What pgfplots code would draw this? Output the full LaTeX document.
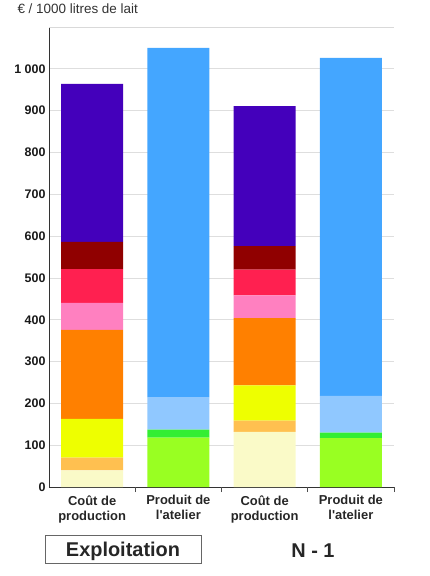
\documentclass[border=0pt]{standalone}
\usepackage{fontspec}
\setmainfont{Liberation Sans}
\newfontfamily\rawfont{Liberation Sans}
\usepackage{pgfplots}
\pgfplotsset{compat=1.18}
\definecolor{cream}{HTML}{FAFAC8}
\definecolor{lorange}{HTML}{FFC050}
\definecolor{yel}{HTML}{EEFF00}
\definecolor{orng}{HTML}{FF8000}
\definecolor{pnk}{HTML}{FF80C0}
\definecolor{rd}{HTML}{FF2050}
\definecolor{drd}{HTML}{900000}
\definecolor{purp}{HTML}{4400BB}
\definecolor{lime}{HTML}{99FF22}
\definecolor{grn}{HTML}{33EE33}
\definecolor{lblue}{HTML}{90C8FF}
\definecolor{blu}{HTML}{44A6FF}
\newcommand{\apos}{{\rawfont '}}
\begin{document}
\begin{tikzpicture}
\useasboundingbox (-49bp,-89bp) rectangle (381bp,487bp);
\begin{axis}[
 at={(0,0)}, anchor=south west, scale only axis, width=345bp, height=460bp,
 xmin=-0.5, xmax=3.5, ymin=0, ymax=1100,
 ybar stacked, bar width=62bp,
 axis x line*=bottom, axis y line*=left,
 axis line style={black!80, line width=0.8pt},
 ytick={0,100,...,1000},
 ymajorgrids, grid style={black!13, line width=0.7pt},
 ytick style={draw=none},
 xtick={0,1,2,3},
 xticklabels={{Coût de\\production},{Produit de\\l\apos atelier},{Coût de\\production},{Produit de\\l\apos atelier}},
 xticklabel style={align=center, font=\fontsize{13}{15}\selectfont\bfseries, text=black!85, yshift=-5bp},
 xtick style={draw=none},
 extra x ticks={0.5,1.5,2.5,3.5}, extra x tick labels={},
 extra x tick style={xtick style={draw=black!70, line width=0.8pt}, major tick length=5bp, tick align=outside},
 yticklabel style={font=\fontsize{12.5}{14}\selectfont\bfseries, text=black!90},
 /pgf/number format/assume math mode=true,
 /pgf/number format/1000 sep={\ },
 every axis plot/.append style={draw=none},
]
\addplot[fill=cream] coordinates {(0,40)(1,0)(2,132)(3,0)};
\addplot[fill=lorange] coordinates {(0,30)(1,0)(2,27)(3,0)};
\addplot[fill=yel] coordinates {(0,93)(1,0)(2,84)(3,0)};
\addplot[fill=orng] coordinates {(0,213)(1,0)(2,161)(3,0)};
\addplot[fill=pnk] coordinates {(0,64)(1,0)(2,54)(3,0)};
\addplot[fill=rd] coordinates {(0,81)(1,0)(2,62)(3,0)};
\addplot[fill=drd] coordinates {(0,65)(1,0)(2,56)(3,0)};
\addplot[fill=purp] coordinates {(0,378)(1,0)(2,335)(3,0)};
\addplot[fill=lime] coordinates {(0,0)(1,118)(2,0)(3,117)};
\addplot[fill=grn] coordinates {(0,0)(1,19)(2,0)(3,13)};
\addplot[fill=lblue] coordinates {(0,0)(1,78)(2,0)(3,88)};
\addplot[fill=blu] coordinates {(0,0)(1,835)(2,0)(3,808)};
\draw[black!15, line width=0.8pt] (rel axis cs:0,1) -- (rel axis cs:1,1) -- (rel axis cs:1,0);
\end{axis}
\node[anchor=west, font=\fontsize{13.5}{15}\selectfont, text=black!80] at (-35bp,478bp) {€ / 1000 litres de lait};
\draw[black!60, line width=0.8pt] (-4bp,-48bp) rectangle (152bp,-76bp);
\node[font=\fontsize{20}{22}\selectfont\bfseries, text=black!85] at (74bp,-64bp) {Exploitation};
\node[font=\fontsize{20}{22}\selectfont\bfseries, text=black!85] at (264bp,-64bp) {N - 1};
\end{tikzpicture}
\end{document}
